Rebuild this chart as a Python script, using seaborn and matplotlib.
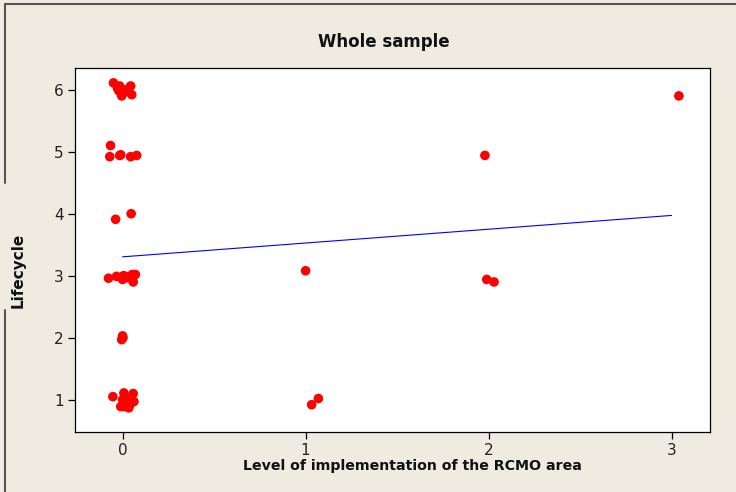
import matplotlib
matplotlib.use("Agg")
import matplotlib.pyplot as plt
from matplotlib.lines import Line2D
import seaborn as sns
import pandas as pd

# Level of implementation of the RCMO area and lifecycle stage per firm
implementation = [0] * 40 + [1, 1, 1, 2, 2, 2, 3]
lifecycle = (
    [6] * 9 + [5] * 6 + [4] * 2 + [3] * 9 + [2] * 3 + [1] * 11
    + [3, 1, 1, 5, 3, 3, 6]
)
# Display jitter applied to each point so overlapping firms stay visible
jitter_x = [
    -0.050, -0.016, 0.044, -0.020, -0.005, 0.050, 0.005, -0.027, 0.020,
    -0.066, -0.070, -0.016, 0.044, 0.077, -0.010,
    -0.038, 0.047,
    -0.077, -0.033, 0.000, 0.005, 0.053, 0.058, 0.070, 0.027, 0.015,
    0.000, -0.005, 0.002,
    -0.053, 0.007, 0.058, 0.000, 0.026, 0.062, 0.007, 0.034, -0.010, 0.016, 0.040,
    0.000, 0.033, 0.070,
    -0.020, -0.010, 0.030,
    0.040,
]
jitter_y = [
    0.11, 0.06, 0.06, -0.02, -0.10, -0.08, -0.05, 0.02, 0.00,
    0.10, -0.08, -0.06, -0.08, -0.06, -0.05,
    -0.09, 0.00,
    -0.04, -0.01, -0.06, 0.00, 0.02, -0.10, 0.02, -0.03, -0.01,
    0.03, -0.03, 0.00,
    0.05, 0.11, 0.10, 0.00, -0.03, -0.03, -0.11, -0.13, -0.11, 0.03, -0.08,
    0.08, -0.08, 0.02,
    -0.06, -0.06, -0.10,
    -0.10,
]
x_ticks = [0, 1, 2, 3]
y_ticks = [1, 2, 3, 4, 5, 6]

df = pd.DataFrame({"impl": implementation, "life": lifecycle})
shown = pd.DataFrame({
    "impl": [v + j for v, j in zip(implementation, jitter_x)],
    "life": [v + j for v, j in zip(lifecycle, jitter_y)],
})

bg = "#EFEBE0"
sns.set_theme(style="white")
plt.rcParams["font.family"] = ["DejaVu Sans"]

fig = plt.figure(figsize=(7.36, 4.92), dpi=100, facecolor=bg)
ax = fig.add_axes([75 / 736, 1 - 432 / 492, 635 / 736, 364 / 492])
ax.set_facecolor("white")

# least-squares fit on the recorded levels
sns.regplot(data=df, x="impl", y="life", ax=ax, ci=None, truncate=True,
            scatter=False, line_kws=dict(color="#0000FF", lw=0.8))
sns.scatterplot(data=shown, x="impl", y="life", ax=ax, color="#FF0000",
                s=48, edgecolor="none", zorder=3)

ax.set_xlim(-0.26, 3.21)
ax.set_ylim(0.48, 6.35)
ax.set_xticks(x_ticks)
ax.set_yticks(y_ticks)

tick_font = dict(family=["Liberation Sans Narrow", "DejaVu Sans"], size=11)
ax.set_xticklabels([str(t) for t in x_ticks], **tick_font)
ax.set_yticklabels([str(t) for t in y_ticks], **tick_font)
ax.tick_params(axis="both", direction="out", length=5, width=0.9,
               color="black", labelcolor="#222222", pad=3,
               bottom=True, left=True, top=False, right=False)

for side, sp in ax.spines.items():
    sp.set_color("black")
    sp.set_linewidth(0.9)

ax.set_xlabel("")
ax.set_ylabel("")
fig.text(412 / 736, 1 - 466 / 492, "Level of implementation of the RCMO area",
         fontsize=10.2, fontweight="bold", color="#111111",
         ha="center", va="center")
fig.text(18 / 736, 1 - 270 / 492, "Lifecycle", rotation=90, fontsize=11,
         fontweight="bold", color="#111111", ha="center", va="center")

fig.text(384 / 736, 1 - 42 / 492, "Whole sample", fontsize=12,
         fontweight="bold", color="#111111", ha="center", va="center")

# outer frame, broken where the y label sits
frame = dict(color="#555555", lw=1.5, transform=fig.transFigure)
fig.add_artist(Line2D([5 / 736, 1], [1 - 4 / 492, 1 - 4 / 492], **frame))
fig.add_artist(Line2D([5 / 736, 5 / 736], [1 - 4 / 492, 1 - 183 / 492], **frame))
fig.add_artist(Line2D([5 / 736, 5 / 736], [1 - 310 / 492, 0], **frame))

fig.savefig("out.png", dpi=100, facecolor=bg)
